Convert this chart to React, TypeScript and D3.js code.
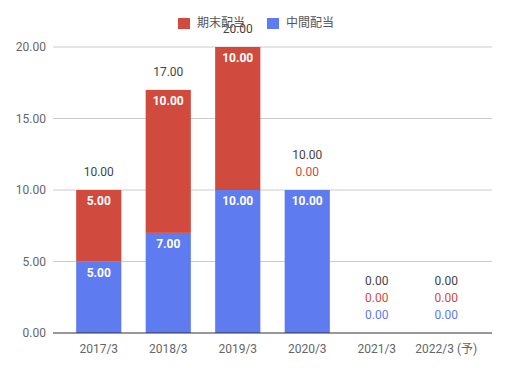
import { useEffect, useRef } from "react";
import * as d3 from "d3";

const categories = ["2017/3", "2018/3", "2019/3", "2020/3", "2021/3", "2022/3 (予)"];
const interim = [5, 7, 10, 10, 0, 0];   // 中間配当
const yearEnd = [5, 10, 10, 0, 0, 0];   // 期末配当
const yTicks = [0, 5, 10, 15, 20];

const RED = "#d04b3d";
const BLUE = "#5f7bf0";
const FONT = "Roboto, 'Noto Sans CJK JP', sans-serif";

export default function App() {
  const ref = useRef<SVGSVGElement>(null);

  useEffect(() => {
    const svg = d3.select(ref.current);
    svg.selectAll("*").remove();

    const width = 508, height = 368;
    const y = d3.scaleLinear().domain([0, 20]).range([333, 47]);
    const x = d3.scaleBand().domain(categories).range([64, 481]).paddingInner(0.35).paddingOuter(0.175);

    // grid
    svg.append("g").selectAll("line").data(yTicks.filter(d => d > 0)).join("line")
      .attr("x1", 53).attr("x2", 492)
      .attr("y1", d => y(d)).attr("y2", d => y(d))
      .attr("stroke", "#cccccc").attr("stroke-width", 1);

    svg.append("g").selectAll("text").data(yTicks).join("text")
      .attr("x", 46).attr("y", d => y(d)).attr("dy", "0.35em")
      .attr("text-anchor", "end").attr("font-family", FONT).attr("font-size", 12)
      .attr("fill", "#666").text(d => d.toFixed(2));

    // bars
    const g = svg.append("g");
    categories.forEach((c, i) => {
      const bx = x(c)!;
      const bw = x.bandwidth();
      const cx = bx + bw / 2;
      const a = interim[i], b = yearEnd[i], total = a + b;
      if (a > 0) {
        g.append("rect").attr("x", bx).attr("width", bw)
          .attr("y", y(a)).attr("height", y(0) - y(a)).attr("fill", BLUE);
        g.append("text").attr("x", cx).attr("y", y(a) + 11).attr("dy", "0.35em")
          .attr("text-anchor", "middle").attr("font-family", FONT).attr("font-size", 12)
          .attr("font-weight", "bold").attr("fill", "#fff").text(a.toFixed(2));
      }
      if (b > 0) {
        g.append("rect").attr("x", bx).attr("width", bw)
          .attr("y", y(total)).attr("height", y(a) - y(total)).attr("fill", RED);
        g.append("text").attr("x", cx).attr("y", y(total) + 11).attr("dy", "0.35em")
          .attr("text-anchor", "middle").attr("font-family", FONT).attr("font-size", 12)
          .attr("font-weight", "bold").attr("fill", "#fff").text(b.toFixed(2));
      }
      // outside labels for zero segments, stacked above
      let off = 18;
      if (a === 0) {
        g.append("text").attr("x", cx).attr("y", y(total) - off).attr("dy", "0.35em")
          .attr("text-anchor", "middle").attr("font-family", FONT).attr("font-size", 12)
          .attr("fill", BLUE).text(a.toFixed(2));
        off += 17;
      }
      if (b === 0) {
        g.append("text").attr("x", cx).attr("y", y(total) - off).attr("dy", "0.35em")
          .attr("text-anchor", "middle").attr("font-family", FONT).attr("font-size", 12)
          .attr("fill", RED).text(b.toFixed(2));
        off += 17;
      }
      g.append("text").attr("x", cx).attr("y", y(total) - off).attr("dy", "0.35em")
        .attr("text-anchor", "middle").attr("font-family", FONT).attr("font-size", 12)
        .attr("fill", "#444").text(total.toFixed(2));
    });

    // baseline
    svg.append("line").attr("x1", 53).attr("x2", 492).attr("y1", y(0)).attr("y2", y(0))
      .attr("stroke", "#333").attr("stroke-width", 1);

    svg.append("g").selectAll("text").data(categories).join("text")
      .attr("x", d => x(d)! + x.bandwidth() / 2).attr("y", 349).attr("dy", "0.35em")
      .attr("text-anchor", "middle").attr("font-family", FONT).attr("font-size", 12)
      .attr("fill", "#666").text(d => d);

    // legend
    const legend = [
      { label: "期末配当", color: RED, x: 178 },
      { label: "中間配当", color: BLUE, x: 267 },
    ];
    const lg = svg.append("g");
    legend.forEach(l => {
      lg.append("rect").attr("x", l.x).attr("y", 18).attr("width", 12).attr("height", 11).attr("fill", l.color);
      lg.append("text").attr("x", l.x + 19).attr("y", 23).attr("dy", "0.35em")
        .attr("font-family", FONT).attr("font-size", 12).attr("fill", "#555").text(l.label);
    });

    svg.attr("width", width).attr("height", height);
  }, []);

  return (
    <div style={{ position: "absolute", left: 0, top: 0 }}>
      <svg ref={ref} width={508} height={368} style={{ display: "block", background: "#fff" }} />
    </div>
  );
}
